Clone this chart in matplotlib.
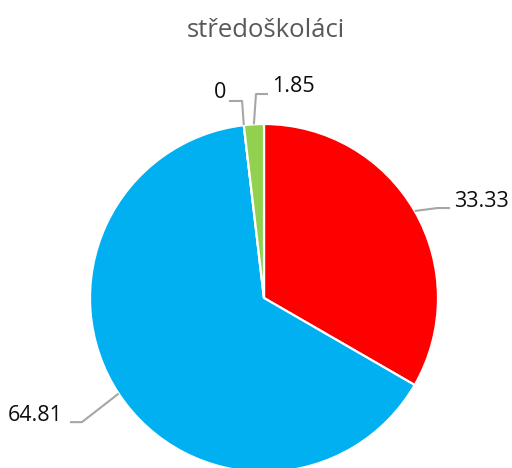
import numpy as np
import matplotlib.pyplot as plt

plt.rcParams['font.family'] = ['Open Sans', 'DejaVu Sans']

# data
categories = ['a', 'b', 'c', 'd']
values = [33.33, 64.81, 0, 1.85]
labels = ['33.33', '64.81', '0', '1.85']
colors = ['#FF0000', '#00B0F0', '#FFC000', '#92D050']

fig = plt.figure(figsize=(5.12, 4.68), dpi=100)
ax = fig.add_axes([0, 0, 1, 1])

wedges, _ = ax.pie(values, colors=colors, startangle=90, counterclock=False,
                   radius=1.0,
                   wedgeprops=dict(edgecolor='white', linewidth=1.6))

ax.set_xlim(-264 / 174, 248 / 174)
ax.set_ylim(-170 / 174, 298 / 174)
ax.set_aspect('auto')
ax.axis('off')

# leader lines: points relative to edge point, text pos offset, ha
layout = {
    0: dict(pts=[(0.13, 0.017), (0.203, 0.017)], txt=(0.226, 0.052), ha='left'),
    1: dict(pts=[(-0.211, -0.164), (-0.28, -0.164)], txt=(-0.32, -0.123), ha='right'),
    2: dict(pts=[(-0.01, 0.139), (-0.085, 0.139)], txt=(-0.102, 0.185), ha='right'),
    3: dict(pts=[(0.012, 0.174), (0.081, 0.174)], txt=(0.104, 0.215), ha='left'),
}

for i, w in enumerate(wedges):
    ang = np.deg2rad((w.theta1 + w.theta2) / 2)
    x0, y0 = np.cos(ang), np.sin(ang)
    lay = layout[i]
    xs = [x0] + [x0 + p[0] for p in lay['pts']]
    ys = [y0] + [y0 + p[1] for p in lay['pts']]
    ax.plot(xs, ys, color='#A6A6A6', lw=1.5, solid_capstyle='butt')
    ax.text(x0 + lay['txt'][0], y0 + lay['txt'][1], labels[i], ha=lay['ha'],
            va='center', fontsize=15.5, color='#0d0d0d')

fig.text(0.52, 0.934, 'středoškoláci', ha='center', va='center',
         fontsize=18.5, color='#595959')

fig.savefig('out.png', dpi=100)
